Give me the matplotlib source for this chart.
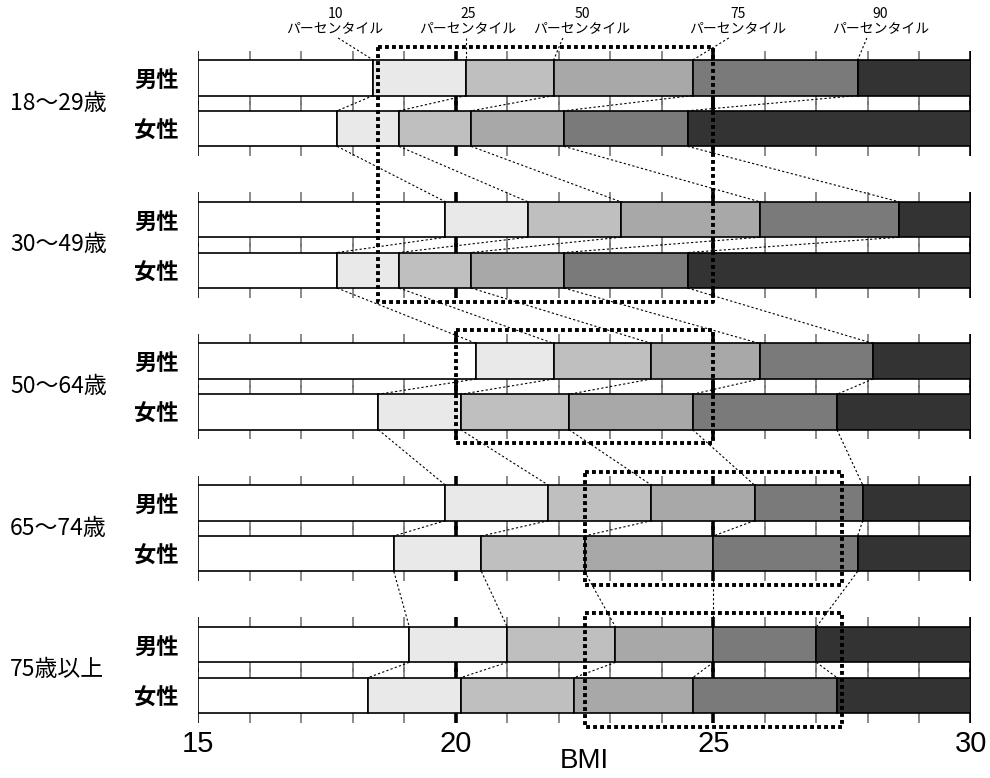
import matplotlib
matplotlib.use('Agg')
import matplotlib.pyplot as plt

plt.rcParams['font.family'] = ['Noto Sans CJK JP', 'DejaVu Sans']

# ---------------- data ----------------
age_groups = ['18〜29歳', '30〜49歳', '50〜64歳', '65〜74歳', '75歳以上']
sexes = ['男性', '女性']
percentile_names = ['10', '25', '50', '75', '90']
bmi_min, bmi_max = 15, 30
x_ticks = [15, 20, 25, 30]

male_pct = [
    [18.4, 20.2, 21.9, 24.6, 27.8],
    [19.8, 21.4, 23.2, 25.9, 28.6],
    [20.4, 21.9, 23.8, 25.9, 28.1],
    [19.8, 21.8, 23.8, 25.8, 27.9],
    [19.1, 21.0, 23.1, 25.0, 27.0],
]
female_pct = [
    [17.7, 18.9, 20.3, 22.1, 24.5],
    [17.7, 18.9, 20.3, 22.1, 24.5],
    [18.5, 20.1, 22.2, 24.6, 27.4],
    [18.8, 20.5, 22.5, 25.0, 27.8],
    [18.3, 20.1, 22.3, 24.6, 27.4],
]

# target ranges (dotted boxes)
box_lo = [18.5, 20.0, 22.5, 22.5]
box_hi = [25.0, 25.0, 27.5, 27.5]
box_first_group = [0, 2, 3, 4]
box_last_group = [1, 2, 3, 4]

# ---------------- layout / style ----------------
seg_colors = ['#ffffff', '#e9e9e9', '#bfbfbf', '#a8a8a8', '#7a7a7a', '#333333']
label_x = [17.66, 20.24, 22.45, 25.48, 28.24]     # centre of top labels
label_line_x = [17.72, 20.20, 22.08, 25.30, 27.98]  # start of their leader lines

W, H = 990, 778
fig = plt.figure(figsize=(W / 100, H / 100), dpi=100)
ax_bottom_px = 730
ax = fig.add_axes([198 / W, (H - ax_bottom_px) / H, (971 - 198) / W, ax_bottom_px / H])
ax.set_xlim(bmi_min, bmi_max)
ax.set_ylim(ax_bottom_px, 0)

group_step = 141.7
male_c0 = 77.8
sex_step = 50.8
bar_h = 35.5
tick_len = 9.5

bars = []  # (centre, pct list)
for i in range(len(age_groups)):
    ym = male_c0 + group_step * i
    yf = ym + sex_step
    bars.append((ym, male_pct[i]))
    bars.append((yf, female_pct[i]))

# tick marks around each bar
for yc, _ in bars:
    top = yc - bar_h / 2
    bot = yc + bar_h / 2
    for k in range(bmi_min, bmi_max + 1):
        if k in (20, 25, 30):
            c, lw = 'black', 2.6
        elif k == 15:
            c, lw = 'black', 1.2
        else:
            c, lw = '#777777', 1.2
        ax.vlines(k, top - tick_len, top, colors=c, lw=lw, zorder=1)
        ax.vlines(k, bot, bot + tick_len, colors=c, lw=lw, zorder=1)

# stacked bars
for yc, pct in bars:
    edges = [bmi_min] + list(pct) + [bmi_max]
    for j in range(6):
        ax.barh(yc, edges[j + 1] - edges[j], left=edges[j], height=bar_h,
                color=seg_colors[j], edgecolor='black', linewidth=1.2, zorder=2)

# connecting dotted lines between consecutive bars
for b in range(len(bars) - 1):
    ya, pa = bars[b]
    yb, pb = bars[b + 1]
    for j in range(5):
        ax.plot([pa[j], pb[j]], [ya + bar_h / 2, yb - bar_h / 2], color='black',
                lw=0.8, linestyle=(0, (2, 2)), zorder=3)

# top labels and their leader lines
for j, name in enumerate(percentile_names):
    ax.text(label_x[j], 21, f'{name}\nパーセンタイル', ha='center', va='center',
            fontsize=10, linespacing=1.0, zorder=5)
    ax.plot([label_line_x[j], male_pct[0][j]], [38, bars[0][0] - bar_h / 2],
            color='black', lw=0.8, linestyle=(0, (2, 2)), zorder=3)

# dotted target boxes
pad = 13.5
for lo, hi, g0, g1 in zip(box_lo, box_hi, box_first_group, box_last_group):
    top = male_c0 + group_step * g0 - bar_h / 2 - pad
    bot = male_c0 + group_step * g1 + sex_step + bar_h / 2 + pad
    ax.plot([lo, hi, hi, lo, lo], [top, top, bot, bot, top], color='black',
            lw=2.8, linestyle=(0, (1, 0.8)), zorder=6, clip_on=False)

# y labels
ax.set_yticks([yc for yc, _ in bars])
ax.set_yticklabels(sexes * len(age_groups), fontsize=16, fontweight='bold')
ax.tick_params(axis='y', length=0, pad=14)
for i, g in enumerate(age_groups):
    yc = male_c0 + group_step * i + sex_step / 2
    ax.text(-0.243, yc, g, transform=ax.get_yaxis_transform(), ha='left',
            va='center', fontsize=16.5)

# x axis
lat = ['Liberation Sans', 'DejaVu Sans']
ax.set_xticks(x_ticks)
ax.set_xticklabels([str(t) for t in x_ticks], fontsize=21, family=lat)
ax.tick_params(axis='x', length=0, pad=0)
ax.set_xlabel('BMI', fontsize=20, family=lat, va='center')
ax.xaxis.set_label_coords(0.5, -(761 - ax_bottom_px) / ax_bottom_px)
for s in ax.spines.values():
    s.set_visible(False)

fig.savefig('out.png', dpi=100)
